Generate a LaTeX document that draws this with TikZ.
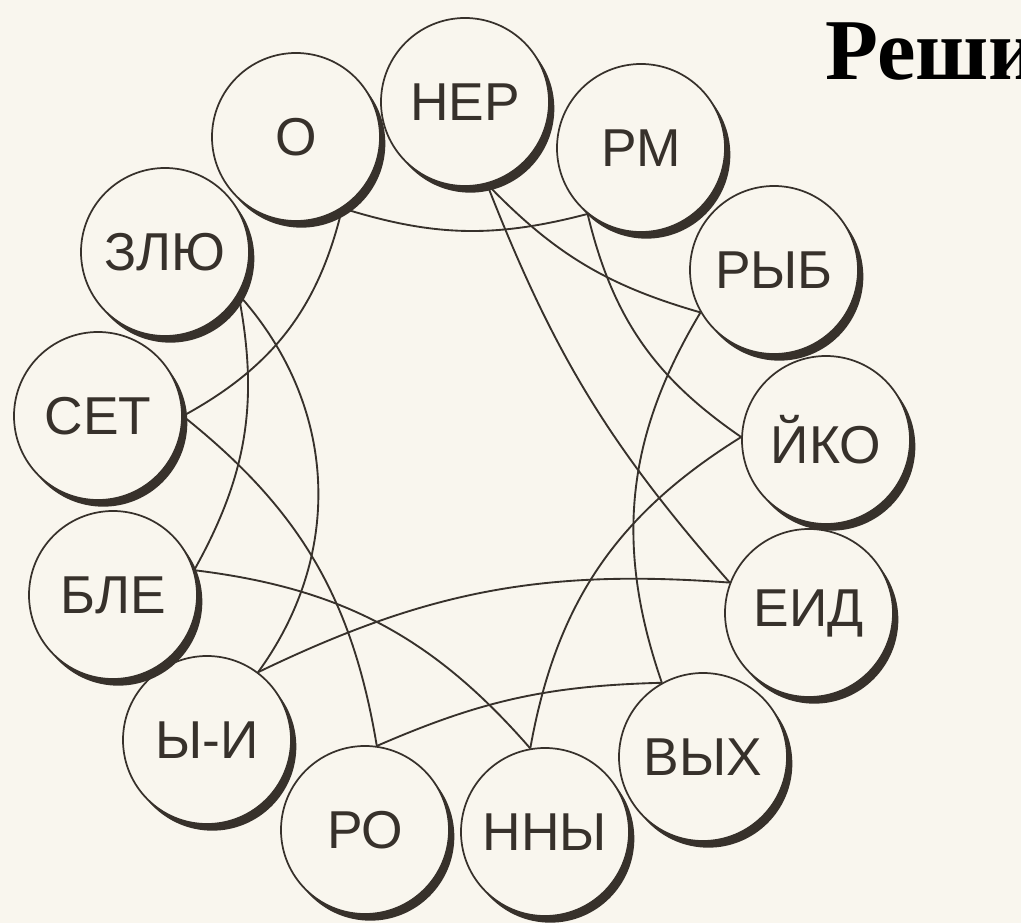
\documentclass[tikz,border=0pt]{standalone}
\usepackage{fontspec}
\setmainfont{Liberation Sans}
\newfontfamily\headfont{Liberation Serif}
\usetikzlibrary{shadows}
\definecolor{paper}{HTML}{F9F6EE}
\definecolor{ink}{HTML}{37312B}

\begin{document}
\begin{tikzpicture}[
    x=0.75pt, y=0.75pt,
    syl/.style={circle, draw=ink, line width=1.3pt, fill=paper, minimum size=126pt, inner sep=0pt,
        text=ink, font=\fontsize{40}{48}\selectfont,
        drop shadow={shadow xshift=4pt, shadow yshift=-5pt, fill=ink, opacity=1}},
    link/.style={draw=ink, line width=1.4pt}
]
    \fill[paper] (0,0) rectangle (1021,-923);
    \useasboundingbox (0,0) rectangle (1021,-923);

    \node[anchor=base west, inner sep=0pt, font=\headfont\bfseries\fontsize{65}{70}\selectfont] (title) at (825,-80) {Реши};

    \node[syl] (o) at (296,-137) {О};
    \node[syl] (ner) at (465,-102) {НЕР};
    \node[syl] (rm) at (641,-148) {РМ};
    \node[syl] (ryb) at (774,-270) {РЫБ};
    \node[syl] (yko) at (826,-440) {ЙКО};
    \node[syl] (eid) at (809,-613) {ЕИД};
    \node[syl] (vyh) at (703,-757) {ВЫХ};
    \node[syl] (nny) at (545,-832) {ННЫ};
    \node[syl] (ro) at (365,-830) {РО};
    \node[syl] (yi) at (207,-740) {Ы-И};
    \node[syl] (ble) at (113,-595) {БЛЕ};
    \node[syl] (set) at (98,-416) {СЕТ};
    \node[syl] (zlyu) at (165,-252) {ЗЛЮ};

    % the chain of syllables
    \draw[link] (ner.-75) to[bend right=10] (eid.159);
    \draw[link] (yi.53) to[bend left=15] (eid.159);
    \draw[link] (zlyu.-30) to[bend left=39] (yi.53);
    \draw[link] (zlyu.-30) to[bend left=20] (ble.17);
    \draw[link] (ble.17) to[bend left=21] (nny.100);
    \draw[link] (nny.100) to[bend left=24] (yko.178);
    \draw[link] (rm.-129) to[bend right=21] (yko.178);
    \draw[link] (o.-57) to[bend right=16] (rm.-129);
    \draw[link] (o.-57) to[bend left=24] (set.0);
    \draw[link] (set.0) to[bend left=21] (ro.82);
    \draw[link] (ro.82) to[bend left=11] (vyh.119);
    \draw[link] (ryb.-150) to[bend right=25] (vyh.119);
    \draw[link] (ner.-75) to[bend right=15] (ryb.-150);
\end{tikzpicture}
\end{document}
